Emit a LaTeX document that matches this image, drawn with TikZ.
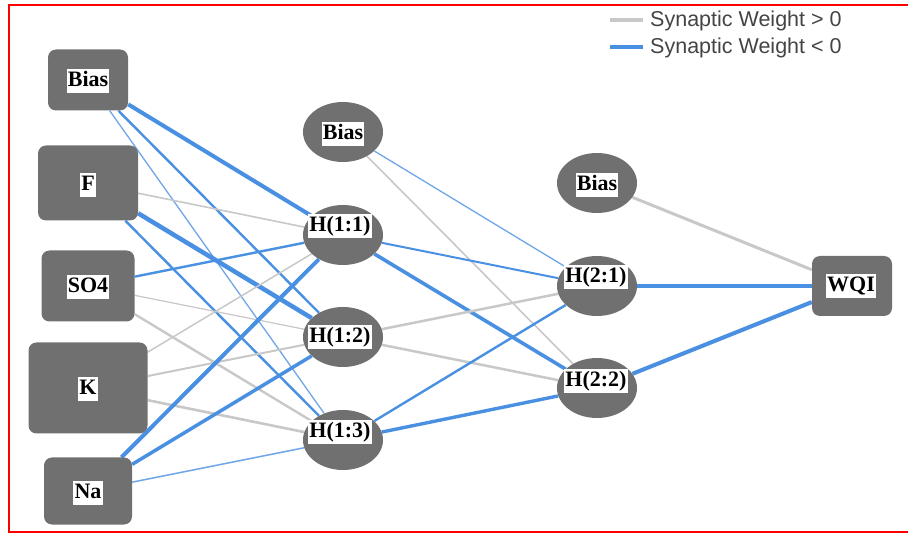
\documentclass[tikz,border=0pt]{standalone}
\usepackage{fontspec}
\setmainfont{Liberation Serif}
\setsansfont{Liberation Sans}
\usetikzlibrary{backgrounds,shapes.geometric}
\definecolor{nodegray}{RGB}{112,112,112}
\definecolor{posgray}{RGB}{200,200,200}
\definecolor{negblue}{RGB}{74,144,226}
\definecolor{legtext}{RGB}{68,68,68}
\tikzset{
  boxnode/.style={draw=none, fill=nodegray, rounded corners=8pt, inner sep=0pt},
  ellnode/.style={ellipse, draw=none, fill=nodegray, inner sep=0pt, minimum width=80pt, minimum height=60pt},
  lab/.style={fill=white, inner xsep=1.2pt, inner ysep=2pt, text height=15pt, text depth=4.5pt,
              font=\fontsize{22}{24}\selectfont\bfseries},
  wpos/.style={draw=posgray, line width=#1},
  wneg/.style={draw=negblue, line width=#1},
  wnegl/.style={draw=negblue!80, line width=#1},
  legend/.style={anchor=west, inner sep=0pt, text=legtext, font=\sffamily\fontsize{21.5}{24}\selectfont},
  frame/.style={draw=red, line width=2pt}
}
\begin{document}
\begin{tikzpicture}[x=1pt,y=-1pt]
\useasboundingbox (0,0) rectangle (908,534);
% frame
\draw[frame] (908,5) -- (8.5,5) -- (8.5,532) -- (908,532);
% input layer
\node[boxnode, minimum width=80pt, minimum height=61pt] (bin) at (88,80) {};
\node[boxnode, minimum width=100pt, minimum height=75pt] (f) at (88,183) {};
\node[boxnode, minimum width=93pt, minimum height=71pt] (so4) at (88,286) {};
\node[boxnode, minimum width=119pt, minimum height=91pt] (k) at (88,388) {};
\node[boxnode, minimum width=88pt, minimum height=67pt] (na) at (88,491) {};
\node[lab] (lbin) at (88,81) {Bias};
\node[lab] (lf) at (88,185) {F};
\node[lab] (lso4) at (88,287) {SO4};
\node[lab] (lk) at (88,389) {K};
\node[lab] (lna) at (88,493) {Na};
% hidden layer 1
\node[ellnode] (b1) at (343,132) {};
\node[ellnode] (h11) at (343,235) {};
\node[ellnode] (h12) at (343,337) {};
\node[ellnode] (h13) at (343,440) {};
\node[lab] (lb1) at (343,134) {Bias};
\node[lab] (lh11) at (340,226) {H(1:1)};
\node[lab] (lh12) at (340,337) {H(1:2)};
\node[lab] (lh13) at (340,432) {H(1:3)};
% hidden layer 2
\node[ellnode] (b2) at (597,183) {};
\node[ellnode] (h21) at (597,286) {};
\node[ellnode] (h22) at (597,388) {};
\node[lab] (lb2) at (597,185) {Bias};
\node[lab] (lh21) at (596,277) {H(2:1)};
\node[lab] (lh22) at (596,381) {H(2:2)};
% output
\node[boxnode, minimum width=80pt, minimum height=60pt] (wqi) at (852,286) {};
\node[lab] (lwqi) at (851,286) {WQI};
% connectors
\begin{pgfonlayer}{background}
\draw[wneg=4] (bin) -- (h11);
\draw[wneg=2.4] (bin) -- (h12);
\draw[wnegl=1.3] (bin) -- (h13);
\draw[wpos=1.6] (f) -- (h11);
\draw[wneg=4.5] (f) -- (h12);
\draw[wneg=2.4] (f) -- (h13);
\draw[wneg=2.4] (so4) -- (h11);
\draw[wpos=1.2] (so4) -- (h12);
\draw[wpos=2.4] (so4) -- (h13);
\draw[wpos=1.5] (k) -- (h11);
\draw[wpos=2] (k) -- (h12);
\draw[wpos=2.6] (k) -- (h13);
\draw[wneg=4] (na) -- (h11);
\draw[wneg=3.5] (na) -- (h12);
\draw[wnegl=1.5] (na) -- (h13);
\draw[wnegl=1.3] (b1) -- (h21);
\draw[wpos=1.6] (b1) -- (h22);
\draw[wneg=2] (h11) -- (h21);
\draw[wneg=3.6] (h11) -- (h22);
\draw[wpos=2.5] (h12) -- (h21);
\draw[wpos=2.5] (h12) -- (h22);
\draw[wneg=2.4] (h13) -- (h21);
\draw[wneg=3.4] (h13) -- (h22);
\draw[wpos=3] (b2) -- (wqi);
\draw[wneg=4] (h21) -- (wqi);
\draw[wneg=4] (h22) -- (wqi);
\end{pgfonlayer}
% legend
\coordinate (lga) at (610,20);
\coordinate (lgb) at (643,20);
\coordinate (lgc) at (610,47);
\coordinate (lgd) at (643,47);
\draw[wpos=4] (lga) -- (lgb);
\draw[wneg=4] (lgc) -- (lgd);
\node[legend] (t1) at (650,21) {Synaptic Weight > 0};
\node[legend] (t2) at (650,48) {Synaptic Weight < 0};
\end{tikzpicture}
\end{document}
